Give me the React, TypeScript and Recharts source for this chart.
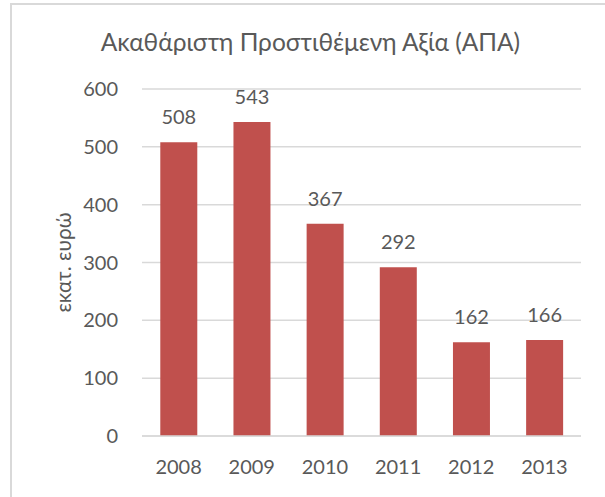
import React from "react";
import { BarChart, Bar, XAxis, YAxis, CartesianGrid, LabelList } from "recharts";

const years = ["2008", "2009", "2010", "2011", "2012", "2013"];
const gva = [508, 543, 367, 292, 162, 166];
const yTicks = [0, 100, 200, 300, 400, 500, 600];

const chartData = years.map((year, i) => ({ year, value: gva[i] }));

const textColor = "#595959";
const fontFamily = "Lato, 'Liberation Sans', sans-serif";

const App: React.FC = () => {
    return (
        <div style={{ position: "absolute", left: 0, top: 0, width: 605, height: 497, overflow: "hidden", background: "#fff", fontFamily }}>
            <div style={{ position: "absolute", left: 10, top: 3, width: 620, height: 520, border: "2px solid #d9d9d9" }} />
            <div style={{ position: "absolute", left: 0, width: 621, top: 30, lineHeight: 1, textAlign: "center", fontSize: 24.5, color: textColor, whiteSpace: "nowrap" }}>
                Ακαθάριστη Προστιθέμενη Αξία (ΑΠΑ)
            </div>
            <div style={{ position: "absolute", left: 0, top: 0 }}>
                <BarChart width={605} height={497} data={chartData} margin={{ top: 89, right: 24, left: 0, bottom: 0 }} barCategoryGap="25%">
                    <CartesianGrid vertical={false} stroke="#d9d9d9" strokeWidth={1.5} />
                    <XAxis dataKey="year" axisLine={{ stroke: "#d9d9d9", strokeWidth: 1.5 }} tickLine={false} tickSize={0} tickMargin={24}
                        tick={{ fill: textColor, fontSize: 20, fontFamily }} height={61} />
                    <YAxis domain={[0, 600]} ticks={yTicks} axisLine={false} tickLine={false} tickSize={0} tickMargin={24} width={142}
                        tick={{ fill: textColor, fontSize: 20, fontFamily }}
                        label={{ value: "εκατ. ευρώ", angle: -90, position: "center", dx: -7, fill: textColor, fontSize: 20.8, fontFamily }} />
                    <Bar dataKey="value" fill="#C0504D" isAnimationActive={false}>
                        <LabelList dataKey="value" position="top" offset={18} fill={textColor} fontSize={20} fontFamily={fontFamily} />
                    </Bar>
                </BarChart>
            </div>
        </div>
    );
};

export default App;
